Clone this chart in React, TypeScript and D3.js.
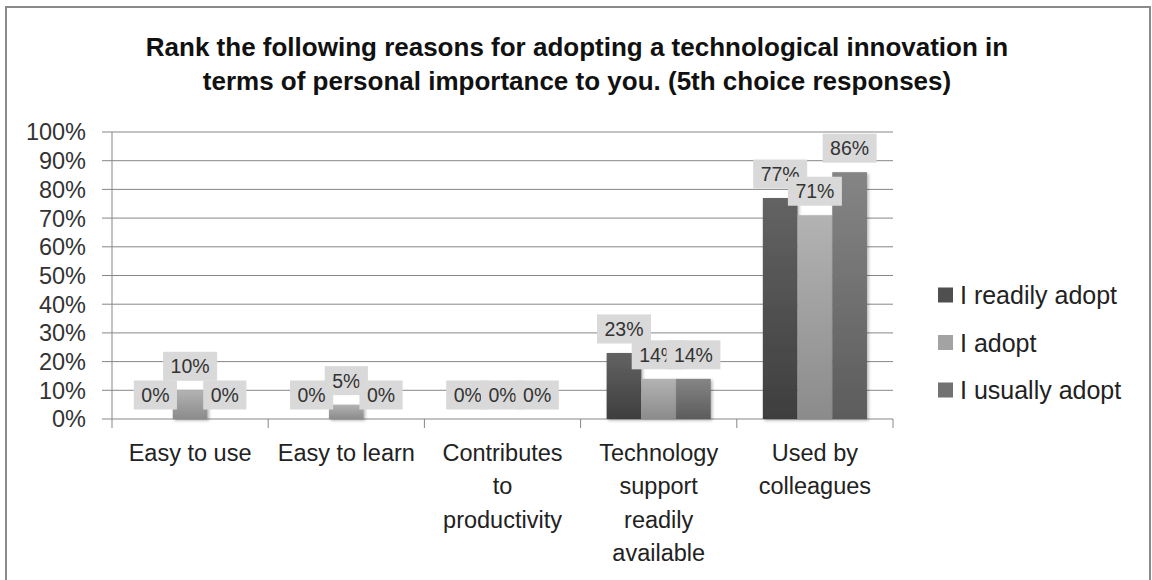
import React from "react";
import * as d3 from "d3";

const TITLE_LINES = [
  "Rank the following reasons for adopting a technological innovation in",
  "terms of personal importance to you. (5th choice responses)",
];
const CATEGORIES = [
  "Easy to use",
  "Easy to learn",
  "Contributes\nto\nproductivity",
  "Technology\nsupport\nreadily\navailable",
  "Used by\ncolleagues",
];
const SERIES = ["I readily adopt", "I adopt", "I usually adopt"];
const READILY = [0, 0, 0, 23, 77];
const ADOPT = [10, 5, 0, 14, 71];
const USUALLY = [0, 0, 0, 14, 86];
const Y_TICKS = [0, 10, 20, 30, 40, 50, 60, 70, 80, 90, 100];

const SERIES_VALUES = [READILY, ADOPT, USUALLY];
const GRAD = [
  ["#636363", "#3e3e3e"],
  ["#b3b3b3", "#8b8b8b"],
  ["#858585", "#5c5c5c"],
];
const LEGEND_FILL = ["#4f4f4f", "#a3a3a3", "#727272"];

const FONT = "'Liberation Sans', Arial, sans-serif";
const W = 1152;
const H = 580;
const M = { left: 112, right: 893, top: 132, bottom: 419 };

export default function App() {
  const x0 = d3.scaleBand<string>().domain(CATEGORIES).range([M.left, M.right]).paddingInner(0).paddingOuter(0);
  const bw = x0.bandwidth();
  const barW = bw / 4.5;
  const x1 = d3
    .scaleBand<string>()
    .domain(SERIES)
    .range([(bw - 3 * barW) / 2, (bw + 3 * barW) / 2])
    .padding(0);
  const y = d3.scaleLinear().domain([0, 100]).range([M.bottom, M.top]);

  const labelFont = 19.5;
  const approxW = (s: string) => {
    let w = 0;
    for (const ch of s) w += ch === "%" ? 0.889 : 0.556;
    return w * labelFont;
  };

  return (
    <svg
      width={W}
      height={H}
      style={{ position: "absolute", left: 0, top: 0, display: "block", background: "#fff" }}
      fontFamily={FONT}
    >
      <defs>
        {GRAD.map((g, i) => (
          <linearGradient key={i} id={`g${i}`} x1="0" y1="0" x2="0" y2="1">
            <stop offset="0%" stopColor={g[0]} />
            <stop offset="100%" stopColor={g[1]} />
          </linearGradient>
        ))}
        <filter id="sh" x="-20%" y="-20%" width="140%" height="140%">
          <feDropShadow dx="1.5" dy="1.5" stdDeviation="1.5" floodColor="#000" floodOpacity="0.3" />
        </filter>
      </defs>
      <rect x={0} y={0} width={W} height={H} fill="#fff" />
      {/* outer border */}
      <rect x={6} y={7} width={1144} height={620} fill="none" stroke="#8a8a8a" strokeWidth={2} />

      {/* title */}
      {TITLE_LINES.map((t, i) => (
        <text
          key={i}
          x={577}
          y={56 + i * 34}
          textAnchor="middle"
          fontSize={26}
          fontWeight="bold"
          fill="#111"
        >
          {t}
        </text>
      ))}

      {/* gridlines and y ticks */}
      {Y_TICKS.map((t) => (
        <g key={t}>
          <line x1={M.left - 10} x2={M.right} y1={y(t)} y2={y(t)} stroke="#878787" strokeWidth={1} />
          <text x={86} y={y(t)} dy="0.36em" textAnchor="end" fontSize={23.5} fill="#333">
            {t}%
          </text>
        </g>
      ))}
      {/* y axis */}
      <line x1={M.left} x2={M.left} y1={M.top} y2={M.bottom + 9} stroke="#878787" strokeWidth={1} />
      {/* category ticks */}
      {CATEGORIES.map((c, i) => (
        <line
          key={c}
          x1={(x0(c) as number) + bw}
          x2={(x0(c) as number) + bw}
          y1={M.bottom}
          y2={M.bottom + 9}
          stroke="#878787"
          strokeWidth={1}
        />
      ))}

      {/* bars */}
      {SERIES.map((s, si) => (
        <g key={s} filter="url(#sh)">
          {CATEGORIES.map((c, ci) => {
            const v = SERIES_VALUES[si][ci];
            const bx = (x0(c) as number) + (x1(s) as number);
            return (
              <rect
                key={c}
                x={bx}
                y={y(v)}
                width={x1.bandwidth()}
                height={M.bottom - y(v)}
                fill={`url(#g${si})`}
              />
            );
          })}
        </g>
      ))}

      {/* data labels */}
      {SERIES.map((s, si) => (
        <g key={s}>
          {CATEGORIES.map((c, ci) => {
            const v = SERIES_VALUES[si][ci];
            const cx = (x0(c) as number) + (x1(s) as number) + x1.bandwidth() / 2;
            const cy = y(v) - 24;
            const label = `${v}%`;
            const tw = approxW(label) + 15;
            return (
              <g key={c}>
                <rect x={cx - tw / 2} y={cy - 14.5} width={tw} height={29} fill="#d9d9d9" />
                <text x={cx} y={cy} dy="0.36em" textAnchor="middle" fontSize={labelFont} fill="#333">
                  {label}
                </text>
              </g>
            );
          })}
        </g>
      ))}

      {/* category labels */}
      {CATEGORIES.map((c) => {
        const cx = (x0(c) as number) + bw / 2;
        return (
          <text key={c} textAnchor="middle" fontSize={23.5} fill="#222">
            {c.split("\n").map((ln, li) => (
              <tspan key={li} x={cx} y={461 + li * 33.3}>
                {ln}
              </tspan>
            ))}
          </text>
        );
      })}

      {/* legend */}
      {SERIES.map((s, si) => (
        <g key={s} transform={`translate(938, ${295 + si * 47.5})`}>
          <rect x={0} y={-7.5} width={15} height={15} fill={LEGEND_FILL[si]} />
          <text x={22} y={0} dy="0.36em" fontSize={25} fill="#222">
            {s}
          </text>
        </g>
      ))}
    </svg>
  );
}
